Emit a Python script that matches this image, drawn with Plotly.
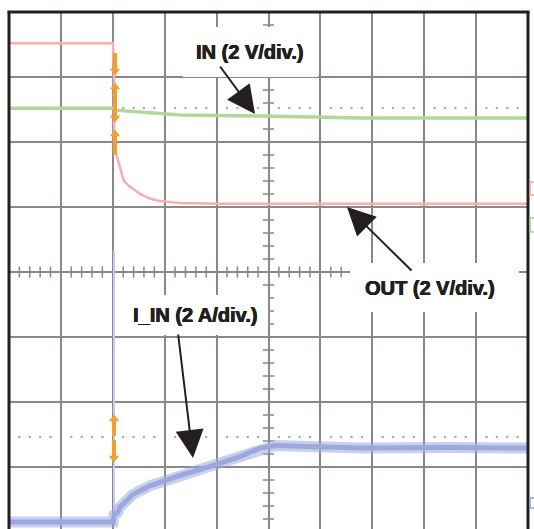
import plotly.graph_objects as go

# ---- data (time in divisions, value in screen divisions) ----
out_t = [0.0, 0.6, 1.37, 2.004, 2.023, 2.023, 2.042, 2.10, 2.158, 2.216, 2.331, 2.524, 2.717, 2.852, 3.102, 3.295, 4.066, 10.0]
out_v = [7.52, 7.52, 7.52, 7.52, 6.95, 5.91, 5.88, 5.72, 5.54, 5.40, 5.31, 5.20, 5.13, 5.10, 5.075, 5.06, 5.05, 5.05]

in_t = [0.0, 2.004, 2.042, 2.524, 3.295, 4.836, 6.763, 10.0]
in_v = [6.52, 6.52, 6.49, 6.46, 6.415, 6.40, 6.37, 6.37]

iin_t = [0.0, 2.004, 2.023, 2.10, 2.139, 2.389, 2.717, 3.044, 3.295, 3.68, 4.066, 4.451, 4.836, 5.125, 5.607, 6.763, 8.497, 10.0]
iin_v = [0.154, 0.154, 0.262, 0.308, 0.385, 0.58, 0.71, 0.81, 0.87, 0.96, 1.062, 1.16, 1.29, 1.33, 1.32, 1.292, 1.30, 1.292]

spike_t = [2.023, 2.023]
spike_v = [0.154, 4.34]

ref_levels = [6.523, 1.462]
labels = ["<b>IN (2 V/div.)</b>", "<b>OUT (2 V/div.)</b>", "<b>I_IN (2 A/div.)</b>"]

# ---- layout geometry ----
W, H = 534, 529
L, R, T, B = 9, 6, 12, 0
XDIV, YDIV = 10, 8
pw = W - L - R
ph = H - T - B
ymin = YDIV - ph / 65.0


def px2x(p):
    return (p - L) / (pw / XDIV)


def px2y(p):
    return YDIV - (p - T) / 65.0


GRID = "#8e8787"
fig = go.Figure()

# dotted reference lines
dx, dy = [], []
for lvl in ref_levels:
    for d in range(XDIV):
        for k in (0.2, 0.4, 0.6, 0.8):
            dx.append(d + k)
            dy.append(lvl)
fig.add_trace(go.Scatter(x=dx, y=dy, mode="markers", hoverinfo="skip",
                         marker=dict(symbol="square", size=2.2, color="#b0aaaa")))

# center graticule minor ticks
tx = [i * 0.2 for i in range(1, XDIV * 5) if i % 5]
fig.add_trace(go.Scatter(x=tx, y=[4] * len(tx), mode="markers", hoverinfo="skip",
                         marker=dict(symbol="line-ns", size=8, line=dict(color=GRID, width=1.5))))
ty = [i * 0.2 for i in range(1, YDIV * 5) if i % 5]
fig.add_trace(go.Scatter(x=[5] * len(ty), y=ty, mode="markers", hoverinfo="skip",
                         marker=dict(symbol="line-ew", size=8, line=dict(color=GRID, width=1.5))))

# traces
fig.add_trace(go.Scatter(x=spike_t, y=spike_v, mode="lines", line=dict(color="#c3cbee", width=2)))
fig.add_trace(go.Scatter(x=iin_t, y=iin_v, mode="lines", opacity=0.55, line=dict(color="#9eabdf", width=11)))
fig.add_trace(go.Scatter(x=iin_t, y=iin_v, mode="lines", line=dict(color="#9aa8de", width=5)))
fig.add_trace(go.Scatter(x=in_t, y=in_v, mode="lines", line=dict(color="#b1d79a", width=3.5)))
fig.add_trace(go.Scatter(x=out_t, y=out_v, mode="lines", line=dict(color="#f4b0b0", width=2.5)))

# orange channel markers
ORANGE = "#f1a02e"
segs = [(115, 53, 73), (115, 85, 120), (115, 132, 155), (114, 417, 436), (114, 440, 460)]
shapes = []
for xp, y0, y1 in segs:
    shapes.append(dict(type="line", xref="x", yref="y", x0=px2x(xp), x1=px2x(xp),
                       y0=px2y(y0), y1=px2y(y1), line=dict(color=ORANGE, width=4), layer="above"))
tri = [(115, 71, "triangle-down"), (115, 87, "triangle-up"), (115, 118, "triangle-down"),
       (115, 134, "triangle-up"), (114, 419, "triangle-up"), (114, 458, "triangle-down")]
fig.add_trace(go.Scatter(x=[px2x(a) for a, b, c in tri], y=[px2y(b) for a, b, c in tri],
                         mode="markers", hoverinfo="skip",
                         marker=dict(symbol=[c for a, b, c in tri], size=9, color=ORANGE)))

# label boxes
for x0, y0, x1, y1 in [(183, 27, 318, 77), (350, 263, 519, 312), (126, 295, 268, 335)]:
    shapes.append(dict(type="rect", xref="x", yref="y", x0=px2x(x0), x1=px2x(x1),
                       y0=px2y(y0), y1=px2y(y1), fillcolor="white", line=dict(width=0), layer="above"))

# frame
FR = "#231f20"
shapes += [
    dict(type="line", xref="paper", yref="paper", x0=0, x1=0, y0=0, y1=1, line=dict(color=FR, width=3)),
    dict(type="line", xref="paper", yref="paper", x0=-0.003, x1=1.003, y0=1, y1=1, line=dict(color=FR, width=3)),
    dict(type="line", xref="paper", yref="paper", x0=1, x1=1, y0=0, y1=1, line=dict(color=FR, width=3)),
]
# right-edge channel indicators
for (y0, y1, c) in [(182, 195, "#f2a3a3"), (218, 232, "#a7d08c"), (498, 508, "#93a3dc")]:
    shapes.append(dict(type="rect", xref="paper", yref="y", x0=1.004, x1=1.013,
                       y0=px2y(y0), y1=px2y(y1), line=dict(color=c, width=1.5), fillcolor="rgba(0,0,0,0)"))

FONT = dict(family="Liberation Sans, Arial, sans-serif", size=20, color="#231f20", weight="bold",
            shadow="0.5px 0 0 #231f20, -0.3px 0 0 #231f20, 0 0.4px 0 #231f20")
ann = [
    dict(x=px2x(249), y=px2y(52), text=labels[0], showarrow=False, font=FONT),
    dict(x=px2x(430), y=px2y(288), text=labels[1], showarrow=False, font=FONT),
    dict(x=px2x(195), y=px2y(315), text=labels[2], showarrow=False, font=FONT),
]
for tip, tail in [((255, 114), (219, 65)), ((347, 207), (413, 272)), ((193, 458), (178, 333))]:
    ann.append(dict(x=px2x(tip[0]), y=px2y(tip[1]), ax=tail[0] - tip[0], ay=tail[1] - tip[1],
                    text="", showarrow=True, arrowhead=2, arrowsize=2.8, arrowwidth=2,
                    arrowcolor="#231f20"))

fig.update_layout(
    width=W, height=H, margin=dict(l=L, r=R, t=T, b=B, pad=0),
    paper_bgcolor="white", plot_bgcolor="white", showlegend=False,
    shapes=shapes, annotations=ann,
    xaxis=dict(range=[0, XDIV], dtick=1, showgrid=True, gridcolor=GRID, gridwidth=1.7,
               zeroline=False, showticklabels=False, ticks="", fixedrange=True),
    yaxis=dict(range=[ymin, YDIV], dtick=1, tick0=0, showgrid=True, gridcolor=GRID, gridwidth=1.7,
               zeroline=False, showticklabels=False, ticks="", fixedrange=True),
)
fig.write_html("out.html")
